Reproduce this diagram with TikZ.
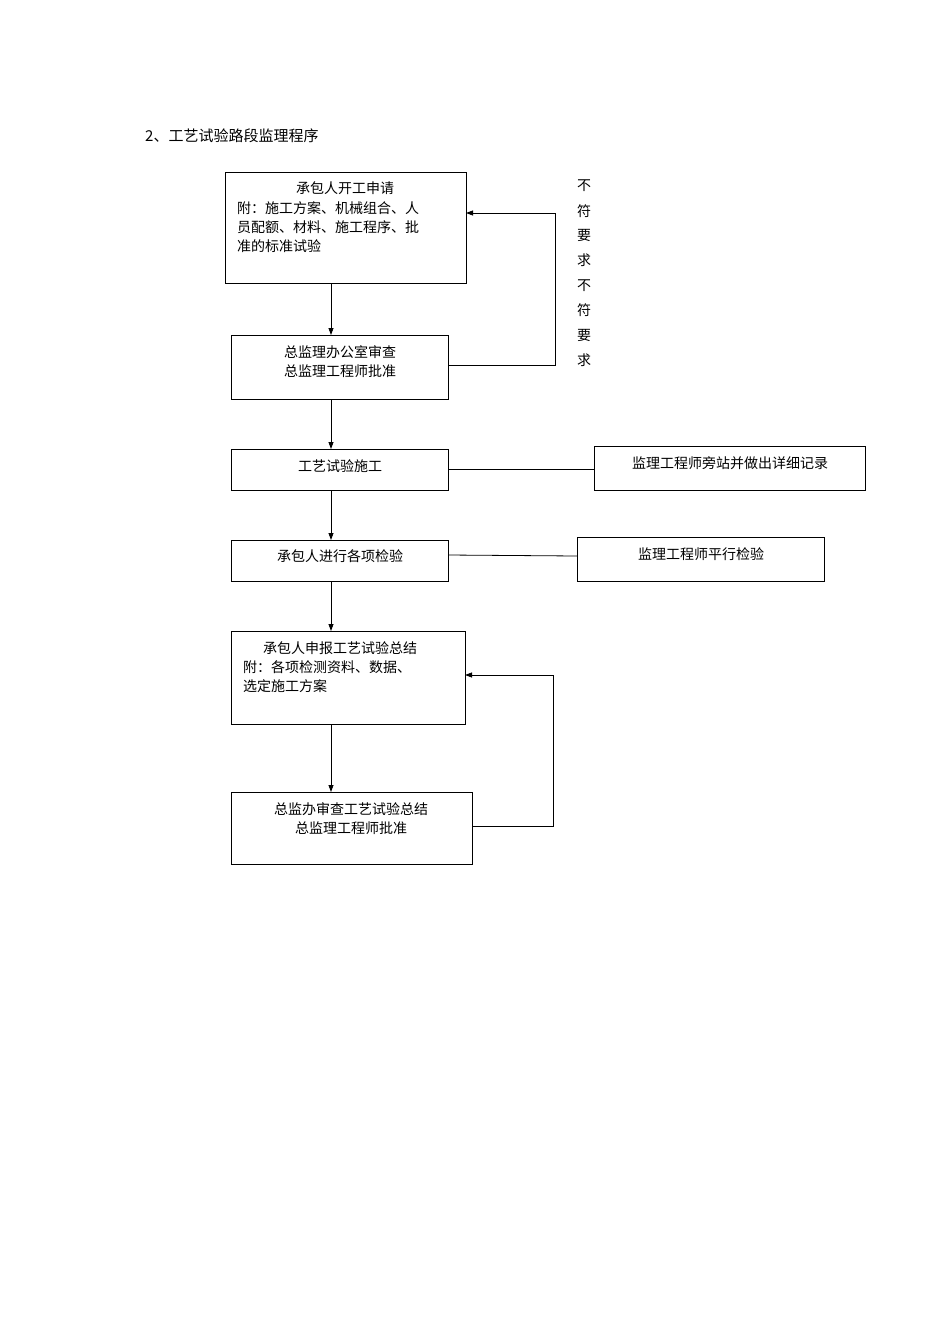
\documentclass[tikz,border=0pt]{standalone}
\usepackage{fontspec}
\newfontfamily\cjk{Noto Sans CJK SC}
\usetikzlibrary{arrows.meta}
\begin{document}
\begin{tikzpicture}[x=1pt,y=-1pt,
  box/.style={draw,line width=0.8pt},
  txt/.style={font=\cjk\fontsize{14}{19}\selectfont,inner sep=0pt},
  arr/.style={line width=0.8pt,-{Triangle[length=7pt,width=5pt]}},
  ln/.style={line width=0.8pt}]
\useasboundingbox (0,0) rectangle (950,1344);
\node[txt,anchor=west,font=\cjk\fontsize{15}{19}\selectfont] (title) at (145,136) {2、工艺试验路段监理程序};
\node[box,minimum width=241,minimum height=111,anchor=north west] (b1) at (225,172) {};
\node[box,minimum width=217,minimum height=64,anchor=north west] (b2) at (231,335) {};
\node[box,minimum width=217,minimum height=41,anchor=north west] (b3) at (231,449) {};
\node[box,minimum width=217,minimum height=41,anchor=north west] (b4) at (231,540) {};
\node[box,minimum width=234,minimum height=93,anchor=north west] (b5) at (231,631) {};
\node[box,minimum width=241,minimum height=72,anchor=north west] (b6) at (231,792) {};
\node[box,minimum width=271,minimum height=44,anchor=north west] (r1) at (594,446) {};
\node[box,minimum width=247,minimum height=44,anchor=north west] (r2) at (577,537) {};
\node[txt] (t1a) at (345,188) {承包人开工申请};
\node[txt,anchor=west] (t1b) at (237,208) {附：施工方案、机械组合、人};
\node[txt,anchor=west] (t1c) at (237,227) {员配额、材料、施工程序、批};
\node[txt,anchor=west] (t1d) at (237,246) {准的标准试验};
\node[txt] (t2a) at (340,352) {总监理办公室审查};
\node[txt] (t2b) at (340,371) {总监理工程师批准};
\node[txt] (t3) at (340,466) {工艺试验施工};
\node[txt] (t4) at (340,556) {承包人进行各项检验};
\node[txt] (t5a) at (340,648) {承包人申报工艺试验总结};
\node[txt,anchor=west] (t5b) at (243,667) {附：各项检测资料、数据、};
\node[txt,anchor=west] (t5c) at (243,686) {选定施工方案};
\node[txt] (t6a) at (351,809) {总监办审查工艺试验总结};
\node[txt] (t6b) at (351,828) {总监理工程师批准};
\node[txt] (tr1) at (730,463) {监理工程师旁站并做出详细记录};
\node[txt] (tr2) at (701,554) {监理工程师平行检验};
\foreach \c [count=\i] in {不,符,要,求,不,符,要,求}
  \node[txt] (v\i) at (584,{186+24.9*(\i-1)}) {\c};
\draw[arr] (331,283) -- (331,335);
\draw[arr] (331,399) -- (331,449);
\draw[arr] (331,490) -- (331,540);
\draw[arr] (331,581) -- (331,631);
\draw[arr] (331,724) -- (331,792);
\coordinate (f1a) at (555,365); \coordinate (f1b) at (555,213);
\draw[arr] (448,365) -- (f1a) -- (f1b) -- (466,213);
\coordinate (f2a) at (553,826); \coordinate (f2b) at (553,675);
\draw[arr] (472,826) -- (f2a) -- (f2b) -- (465,675);
\draw[ln] (448,469) -- (594,469);
\draw[ln] (448,555) -- (577,556);
\end{tikzpicture}
\end{document}
